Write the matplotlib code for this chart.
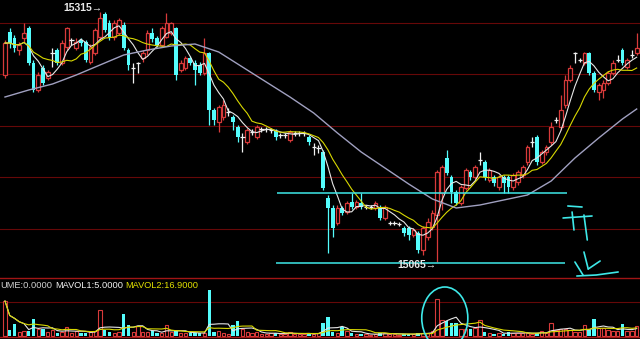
import numpy as np
import pandas as pd
import matplotlib
matplotlib.use('Agg')
import matplotlib.pyplot as plt
from matplotlib.patches import Ellipse

# bars, left to right (price)
opens = [15252, 15295, 15289, 15277, 15289, 15299, 15264, 15237, 15259, 15249,
         15274, 15277, 15264, 15280, 15287, 15279, 15287, 15285, 15265, 15274,
         15290, 15313, 15304, 15290, 15294, 15302, 15277, 15259, 15264, 15269,
         15277, 15294, 15289, 15282, 15290, 15294, 15299, 15257, 15259, 15269,
         15264, 15262, 15254, 15274, 15217, 15205, 15210, 15215, 15210, 15200,
         15190, 15185, 15195, 15190, 15198, 15198, 15197, 15196, 15192, 15192,
         15187, 15194, 15194, 15194, 15190, 15180, 15179, 15175, 15129, 15119,
         15104, 15119, 15115, 15125, 15120, 15124, 15120, 15120, 15119, 15120,
         15109, 15104, 15104, 15103, 15099, 15099, 15092, 15094, 15077, 15090,
         15100, 15112, 15134, 15169, 15150, 15135, 15124, 15139, 15155, 15150,
         15167, 15165, 15147, 15150, 15140, 15150, 15150, 15140, 15145, 15152,
         15165, 15185, 15190, 15165, 15175, 15185, 15207, 15200, 15222, 15247,
         15274, 15267, 15264, 15274, 15254, 15235, 15237, 15244, 15254, 15267,
         15277, 15260, 15272, 15274]
highs = [15287, 15299, 15292, 15285, 15304, 15301, 15267, 15255, 15262, 15257,
         15279, 15279, 15287, 15300, 15289, 15289, 15289, 15287, 15283, 15299,
         15315, 15315, 15307, 15307, 15309, 15305, 15279, 15264, 15265, 15277,
         15297, 15299, 15291, 15301, 15314, 15305, 15300, 15267, 15271, 15271,
         15267, 15265, 15289, 15275, 15219, 15222, 15227, 15219, 15212, 15202,
         15194, 15199, 15198, 15202, 15200, 15200, 15199, 15198, 15194, 15194,
         15197, 15196, 15196, 15196, 15192, 15184, 15182, 15177, 15132, 15122,
         15122, 15121, 15126, 15134, 15127, 15134, 15122, 15122, 15126, 15122,
         15122, 15106, 15106, 15105, 15101, 15101, 15099, 15096, 15101, 15109,
         15117, 15157, 15162, 15177, 15152, 15137, 15142, 15159, 15157, 15162,
         15175, 15167, 15159, 15152, 15152, 15152, 15152, 15154, 15157, 15162,
         15182, 15190, 15192, 15177, 15182, 15205, 15210, 15232, 15252, 15262,
         15275, 15269, 15275, 15275, 15256, 15244, 15247, 15256, 15267, 15272,
         15279, 15269, 15277, 15294]
lows = [15249, 15279, 15275, 15272, 15285, 15262, 15235, 15235, 15242, 15247,
        15260, 15262, 15262, 15277, 15282, 15277, 15281, 15265, 15263, 15272,
        15287, 15295, 15287, 15287, 15292, 15277, 15257, 15244, 15254, 15265,
        15272, 15285, 15280, 15280, 15289, 15292, 15247, 15255, 15257, 15262,
        15242, 15252, 15252, 15202, 15202, 15195, 15207, 15211, 15197, 15185,
        15175, 15183, 15192, 15188, 15195, 15195, 15194, 15187, 15189, 15189,
        15185, 15191, 15191, 15191, 15182, 15172, 15174, 15137, 15074, 15090,
        15102, 15112, 15113, 15118, 15118, 15118, 15118, 15118, 15117, 15107,
        15107, 15102, 15102, 15101, 15091, 15087, 15090, 15074, 15072, 15087,
        15097, 15065, 15117, 15152, 15124, 15122, 15122, 15137, 15147, 15148,
        15162, 15147, 15145, 15141, 15137, 15134, 15134, 15137, 15142, 15149,
        15162, 15180, 15162, 15163, 15172, 15182, 15204, 15197, 15219, 15245,
        15264, 15265, 15262, 15252, 15235, 15227, 15229, 15242, 15252, 15265,
        15262, 15258, 15269, 15272]
closes = [15284, 15284, 15279, 15282, 15294, 15264, 15237, 15252, 15244, 15255,
          15274, 15264, 15284, 15299, 15287, 15285, 15284, 15267, 15280, 15297,
          15309, 15297, 15289, 15304, 15307, 15279, 15262, 15259, 15264, 15274,
          15294, 15288, 15282, 15299, 15304, 15304, 15252, 15264, 15269, 15264,
          15257, 15254, 15274, 15217, 15207, 15220, 15222, 15215, 15205, 15190,
          15190, 15197, 15195, 15200, 15198, 15198, 15197, 15190, 15192, 15192,
          15195, 15194, 15194, 15194, 15185, 15180, 15179, 15139, 15119, 15099,
          15119, 15114, 15124, 15120, 15125, 15120, 15120, 15120, 15124, 15109,
          15120, 15104, 15104, 15103, 15094, 15092, 15097, 15077, 15099, 15105,
          15114, 15155, 15160, 15154, 15135, 15124, 15140, 15157, 15150, 15160,
          15167, 15150, 15157, 15144, 15150, 15144, 15140, 15152, 15155, 15160,
          15180, 15185, 15165, 15175, 15180, 15200, 15207, 15217, 15247, 15259,
          15274, 15267, 15274, 15254, 15237, 15242, 15244, 15254, 15264, 15267,
          15264, 15267, 15272, 15279]
volumes = [35, 6, 12, 4, 5, 5, 17, 7, 7, 4,
           6, 3, 4, 9, 3, 5, 3, 3, 4, 5,
           26, 6, 4, 3, 4, 22, 11, 4, 10, 4,
           4, 5, 3, 3, 11, 4, 5, 3, 3, 3,
           3, 3, 3, 46, 4, 5, 3, 2, 11, 15,
           7, 4, 3, 4, 2, 2, 3, 3, 2, 2,
           4, 2, 2, 2, 3, 2, 3, 13, 19, 4,
           3, 9, 5, 3, 2, 2, 2, 1, 2, 3,
           3, 2, 2, 1, 2, 2, 2, 3, 3, 3,
           5, 37, 16, 15, 13, 13, 7, 7, 7, 8,
           16, 4, 3, 2, 3, 2, 4, 3, 3, 3,
           3, 2, 3, 5, 3, 13, 6, 7, 7, 6,
           4, 4, 11, 6, 17, 8, 8, 6, 5, 5,
           12, 5, 5, 10]

# long moving average (bar index, price)
ma_long_idx = [0, 5, 10, 15, 20, 25, 30, 35, 40, 45, 50, 55, 60, 65,
               70, 75, 80, 85, 90, 95, 100, 105, 110, 115, 120, 125, 130, 133]
ma_long_val = [15230, 15237, 15243, 15252, 15262, 15272, 15277, 15281, 15283, 15275,
               15260, 15245, 15230, 15214, 15194, 15175, 15159, 15143, 15128, 15119,
               15122, 15127, 15132, 15146, 15169, 15189, 15208, 15218]

grid_levels = [15304, 15253, 15201, 15150, 15098]
support_high = 15134
support_low = 15064
label_high = '15315→'
label_low = '15065→'

# hand drawn strokes on the right (bar index, price)
strokes = [
    [(118.5, 15121), (121.5, 15120)],
    [(117.5, 15109), (123.6, 15111)],
    [(119.4, 15115), (119.8, 15097)],
    [(121.9, 15112), (122.6, 15087)],
    [(121.9, 15075), (122.8, 15058)],
    [(122.8, 15058), (125.3, 15066)],
    [(120.0, 15065), (121.7, 15052)],
    [(120.4, 15051), (124.5, 15052), (129.1, 15055)],
]

RED = '#d83a3a'
CYAN = '#54fcfc'
GRID = '#660808'
SEP = '#a01515'

o = np.array(opens, float)
h = np.array(highs, float)
l = np.array(lows, float)
c = np.array(closes, float)
v = np.array(volumes, float)
x = np.arange(len(c))
up = c > o
dn = c < o
flat = c == o

fig = plt.figure(figsize=(6.4, 3.39), dpi=100, facecolor='black')
ax = fig.add_axes([0, 62 / 339, 1, 277 / 339])
axv = fig.add_axes([0, 0, 1, 62 / 339])
for a in (ax, axv):
    a.set_facecolor('black')
    a.set_xticks([])
    a.set_yticks([])
    for s in a.spines.values():
        s.set_visible(False)
    a.set_xlim(-1.05, 133.7)
ax.set_ylim(15050, 15327)
axv.set_ylim(-3, 59)

for g in grid_levels:
    ax.axhline(g, color=GRID, lw=0.8, zorder=0)

# candles
wick_col = np.where(up, RED, np.where(dn, CYAN, '#f0f0f0'))
ax.vlines(x, l, h, colors=wick_col, lw=0.9, zorder=2)
ax.bar(x[up], (c - o)[up], bottom=o[up], width=0.8, facecolor='black',
       edgecolor=RED, lw=0.9, zorder=3)
ax.bar(x[dn], (o - c)[dn], bottom=c[dn], width=0.8, color=CYAN, lw=0, zorder=3)
ax.hlines(c[flat], x[flat] - 0.45, x[flat] + 0.45, colors='#f0f0f0', lw=0.9, zorder=3)

ma5 = pd.Series(c).rolling(5, min_periods=1).mean()
ma10 = pd.Series(c).rolling(10, min_periods=1).mean()
ax.plot(x, ma5, color='#e6e6e6', lw=0.8, zorder=4)
ax.plot(x, ma10, color='#d8d800', lw=0.8, zorder=4)
ax.plot(ma_long_idx, ma_long_val, color='#a0a0c0', lw=1.0, zorder=4)

# drawn support lines and labels
ax.hlines([support_high, support_low], [57.3, 57.1], [118.3, 117.9],
          colors='#3ee8e8', lw=1.1, zorder=5)
fnt = dict(family=['Liberation Sans', 'DejaVu Sans'], fontsize=7.5, fontweight='bold',
           color='#e8e8e8', va='center', ha='right', zorder=6)
ax.text(20.6, 15319, label_high, **fnt)
ax.text(90.8, 15062, label_low, **fnt)
for st in strokes:
    xs, ys = zip(*st)
    ax.plot(xs, ys, color='#3ee8e8', lw=1.2, solid_capstyle='round', zorder=6)

# volume panel
axv.axhline(58.5, color=SEP, lw=1.0)
axv.axhline(34, color=GRID, lw=0.8)
axv.axhline(-1, color=SEP, lw=1.0)
vup = ~dn
axv.bar(x[vup], v[vup], width=0.72, facecolor='black', edgecolor=RED, lw=0.8, zorder=2)
axv.bar(x[dn], v[dn], width=0.72, color=CYAN, lw=0, zorder=2)
mv5 = pd.Series(v).rolling(5, min_periods=1).mean()
mv10 = pd.Series(v).rolling(10, min_periods=1).mean()
axv.plot(x, mv5, color='#e6e6e6', lw=0.8, zorder=3)
axv.plot(x, mv10, color='#d8d800', lw=0.8, zorder=3)
axv.add_patch(Ellipse((92.6, 18), 9.7, 62, fill=False, edgecolor='#3ee8e8', lw=1.2, zorder=4))

vf = dict(family=['Liberation Sans', 'DejaVu Sans'], fontsize=6.7, va='center')
t1 = axv.text(-1.05, 51, 'UME:0.0000', color='#d0d0d0', ha='left', **vf)
t2 = axv.annotate('MAVOL1:5.0000', xy=(1, 0.5), xycoords=t1, xytext=(2, 0),
                  textcoords='offset points', color='#f0f0f0', ha='left', **vf)
axv.annotate('MAVOL2:16.9000', xy=(1, 0.5), xycoords=t2, xytext=(2, 0),
             textcoords='offset points', color='#e0e000', ha='left', **vf)

fig.savefig('out.png', dpi=100, facecolor='black')
